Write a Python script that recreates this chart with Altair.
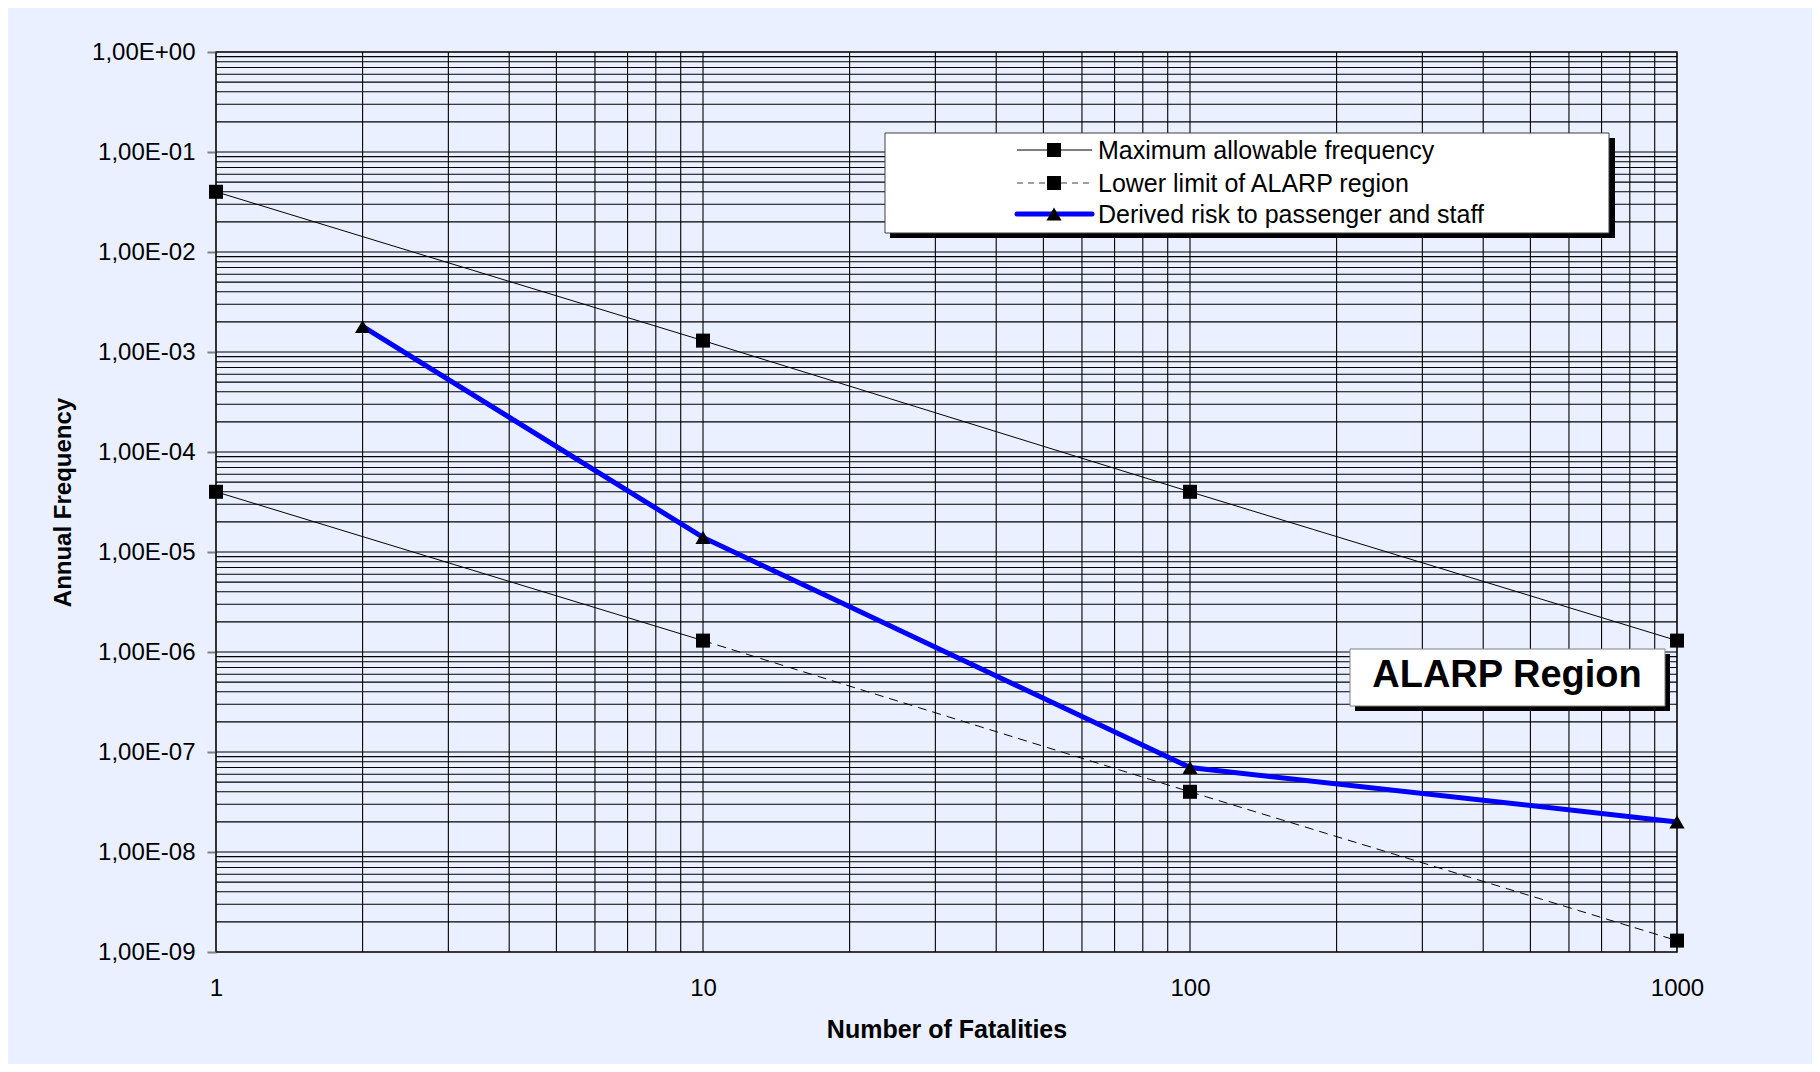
import pandas as pd
import altair as alt

# ---------------- data ----------------
fatalities = [1, 10, 100, 1000]
max_allowable = [4.0e-2, 1.3e-3, 4.0e-5, 1.3e-6]
lower_limit = [4.0e-5, 1.3e-6, 4.0e-8, 1.3e-9]
derived_n = [2, 10, 100, 1000]
derived_risk = [1.8e-3, 1.4e-5, 7.0e-8, 2.0e-8]

series_names = [
    "Maximum allowable frequency",
    "Lower limit of ALARP region",
    "Derived risk to passenger and staff",
]
x_tick_values = [1, 10, 100, 1000]
x_tick_labels = ["1", "10", "100", "1000"]
y_tick_values = [1.0, 1e-1, 1e-2, 1e-3, 1e-4, 1e-5, 1e-6, 1e-7, 1e-8, 1e-9]
y_tick_labels = ["1,00E+00", "1,00E-01", "1,00E-02", "1,00E-03", "1,00E-04",
                 "1,00E-05", "1,00E-06", "1,00E-07", "1,00E-08", "1,00E-09"]
x_title = "Number of Fatalities"
y_title = "Annual Frequency"
annotation_text = "ALARP Region"

mantissas = [1, 2, 3, 4, 5, 6, 7, 8, 9]
x_grid = [m * 10 ** k for k in range(3) for m in mantissas] + [1000]
y_grid = [m * 10.0 ** k for k in range(-9, 0) for m in mantissas] + [1.0]

# ---------------- styling ----------------
FONT = "Liberation Sans"
BG = "#EAF0FF"
W, H = 1461, 900


def label_expr(labels, sign):
    expr = "''"
    for i in reversed(range(len(labels))):
        expr = f"(round({sign}log(datum.value)/LN10) == {i} ? '{labels[i]}' : {expr})"
    return expr


xs = alt.Scale(type="log", domain=[1, 1000], nice=False)
ys = alt.Scale(type="log", domain=[1e-9, 1], nice=False)

x_axis = alt.Axis(
    values=x_tick_values,
    labelExpr=label_expr(x_tick_labels, ""),
    title=x_title, grid=False, domain=False, ticks=False,
    labelPadding=24, labelFlush=False, labelOverlap=False,
    labelFont=FONT, labelFontSize=24, labelColor="black",
    titleFont=FONT, titleFontSize=25, titleFontWeight="bold", titleColor="black",
    titleY=85, titleBaseline="alphabetic",
)
y_axis = alt.Axis(
    values=y_tick_values,
    labelExpr=label_expr(y_tick_labels, "-"),
    title=y_title, grid=False, domain=False, ticks=True, tickSize=9,
    tickColor="#808080", tickWidth=2,
    labelPadding=12, labelFlush=False, labelOverlap=False,
    labelFont=FONT, labelFontSize=24, labelColor="black",
    titleFont=FONT, titleFontSize=24, titleFontWeight="bold", titleColor="black",
    titleAngle=270, titleX=-146, titleY=H / 2, titleAlign="center",
    titleBaseline="alphabetic",
)

GRID_COLOR = "#000000"
grid_v = alt.Chart(pd.DataFrame({"gx": x_grid})).mark_rule(
    color=GRID_COLOR, strokeWidth=1.1
).encode(x=alt.X("gx:Q", scale=xs, axis=x_axis))
grid_h = alt.Chart(pd.DataFrame({"gy": y_grid})).mark_rule(
    color=GRID_COLOR, strokeWidth=1.1
).encode(y=alt.Y("gy:Q", scale=ys, axis=y_axis))

max_df = pd.DataFrame({"n": fatalities, "f": max_allowable})
low_df = pd.DataFrame({"n": fatalities, "f": lower_limit})
der_df = pd.DataFrame({"n": derived_n, "f": derived_risk})

XN = alt.X("n:Q", scale=xs, axis=x_axis)
YF = alt.Y("f:Q", scale=ys, axis=y_axis)

max_line = alt.Chart(max_df).mark_line(color="black", strokeWidth=1).encode(x=XN, y=YF)
low_solid = alt.Chart(low_df.iloc[:2]).mark_line(color="black", strokeWidth=1).encode(x=XN, y=YF)
low_dashed = alt.Chart(low_df.iloc[1:]).mark_line(
    color="black", strokeWidth=1, strokeDash=[9, 6]
).encode(x=XN, y=YF)
der_line = alt.Chart(der_df).mark_line(color="#0000FF", strokeWidth=5).encode(x=XN, y=YF)


def squares(df):
    return alt.Chart(df).mark_point(
        shape="square", filled=True, size=196, color="black", opacity=1
    ).encode(x=XN, y=YF)


max_pts = squares(max_df)
low_pts = squares(low_df)
der_pts = alt.Chart(der_df).mark_point(
    shape="triangle-up", filled=True, size=230, color="black", opacity=1
).encode(x=XN, y=YF)

one = pd.DataFrame({"k": [0]})


def box(x1, y1, x2, y2, fill, stroke=None, sw=1):
    kw = dict(fill=fill, strokeWidth=sw)
    if stroke:
        kw["stroke"] = stroke
    return alt.Chart(one).mark_rect(**kw).encode(
        x=alt.value(x1), x2=alt.value(x2), y=alt.value(y1), y2=alt.value(y2)
    )


# legend box
legend_layers = [
    box(674, 86, 1399, 186, "black"),
    box(669, 81, 1393, 181, "white", "#404040", 1),
]
row_y = [98, 131, 162]
sym_styles = [
    dict(color="black", strokeWidth=1),
    dict(color="#808080", strokeWidth=1.5, strokeDash=[6, 5]),
    dict(color="#0000FF", strokeWidth=5, strokeCap="round"),
]
sym_shapes = ["square", "square", "triangle-up"]
sym_sizes = [196, 196, 230]
for i in range(3):
    legend_layers.append(
        alt.Chart(one).mark_rule(**sym_styles[i]).encode(
            x=alt.value(801), x2=alt.value(876), y=alt.value(row_y[i])
        )
    )
    legend_layers.append(
        alt.Chart(one).mark_point(
            shape=sym_shapes[i], filled=True, size=sym_sizes[i], color="black", opacity=1
        ).encode(x=alt.value(838), y=alt.value(row_y[i]))
    )
    legend_layers.append(
        alt.Chart(one).mark_text(
            align="left", baseline="middle", font=FONT, fontSize=25, color="black"
        ).encode(x=alt.value(882), y=alt.value(row_y[i] + 1), text=alt.value(series_names[i]))
    )

# ALARP Region annotation
alarp_layers = [
    box(1139, 602, 1454, 659, "black"),
    box(1134, 597, 1449, 654, "white", "#808080", 1),
    alt.Chart(one).mark_text(
        align="center", baseline="alphabetic", font=FONT, fontSize=38,
        fontWeight="bold", color="black"
    ).encode(x=alt.value(1291), y=alt.value(635), text=alt.value(annotation_text)),
]

chart = alt.layer(
    grid_v, grid_h,
    max_line, low_solid, low_dashed, der_line,
    max_pts, low_pts, der_pts,
    *alarp_layers, *legend_layers,
).properties(
    width=W, height=H,
    autosize=alt.AutoSizeParams(type="none"),
    padding={"left": 208, "top": 44, "right": 135, "bottom": 112},
    background=BG,
).configure_view(
    stroke="#707070", strokeWidth=2, fill=BG
)

chart.save("out.html", embed_options={"renderer": "svg", "actions": False})
